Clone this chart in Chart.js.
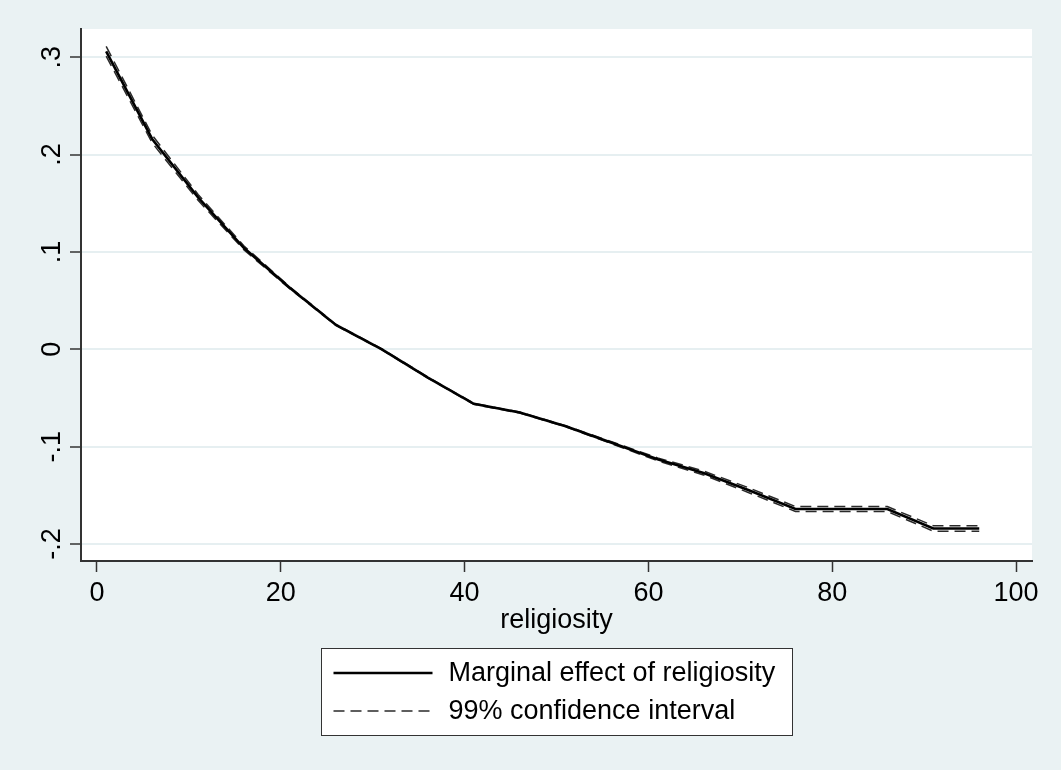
<!DOCTYPE html>
<html>
<head>
<meta charset="utf-8">
<title>Marginal effect of religiosity</title>
<script src="https://cdn.jsdelivr.net/npm/chart.js@4.4.1/dist/chart.umd.min.js"></script>
<style>
  body { margin: 0; background: #EAF2F3; }
  canvas { display: block; }
</style>
</head>
<body>
<canvas id="effectChart" width="1061" height="770"></canvas>
<script>
// religiosity values (x) and the estimated marginal effect with its 99% CI
const religiosity = [1, 6, 11, 16, 21, 26, 31, 36, 41, 46, 51, 56, 61, 66, 71, 76, 81, 86, 91, 96];
const marginalEffect = [0.306, 0.216, 0.156, 0.104, 0.063, 0.025, 0.000, -0.029, -0.056, -0.065,
  -0.079, -0.096, -0.113, -0.127, -0.145, -0.164, -0.164, -0.164, -0.184, -0.184];
const ciUpper = [0.311, 0.220, 0.159, 0.106, 0.064, 0.0255, 0.0005, -0.0285, -0.0555, -0.0645,
  -0.0785, -0.095, -0.1115, -0.125, -0.1425, -0.1615, -0.1615, -0.1615, -0.1812, -0.1812];
const ciLower = [0.301, 0.212, 0.153, 0.102, 0.062, 0.0245, -0.0005, -0.0295, -0.0565, -0.0655,
  -0.0795, -0.097, -0.1145, -0.129, -0.1475, -0.1665, -0.1665, -0.1665, -0.1868, -0.1868];

const xTicks = [0, 20, 40, 60, 80, 100];
const yTicks = [-0.2, -0.1, 0, 0.1, 0.2, 0.3];
const yTickLabels = ['-.2', '-.1', '0', '.1', '.2', '.3'];

const FONT = '"Liberation Sans", Arial, sans-serif';
const FONT_SIZE = 27;
const BG = '#EAF2F3';
const AXIS = '#333333';

function toPoints(ys) {
  return religiosity.map((x, i) => ({ x: x, y: ys[i] }));
}

// page + plot region backgrounds
const backgroundPlugin = {
  id: 'backgrounds',
  beforeDraw(chart) {
    const c = chart.ctx;
    const a = chart.chartArea;
    c.save();
    c.fillStyle = BG;
    c.fillRect(0, 0, chart.width, chart.height);
    c.fillStyle = '#ffffff';
    c.fillRect(a.left, a.top, a.right - a.left, a.bottom - a.top);
    c.restore();
  }
};

// rotated y tick labels, Stata style
const yLabelPlugin = {
  id: 'yLabels',
  afterDraw(chart) {
    const c = chart.ctx;
    const y = chart.scales.y;
    c.save();
    c.fillStyle = '#000';
    c.font = FONT_SIZE + 'px ' + FONT;
    c.textAlign = 'center';
    c.textBaseline = 'alphabetic';
    yTicks.forEach((v, i) => {
      c.save();
      c.translate(60, y.getPixelForValue(v));
      c.rotate(-Math.PI / 2);
      c.fillText(yTickLabels[i], 0, 0);
      c.restore();
    });
    c.restore();
  }
};

// boxed legend under the x axis title
const boxLegendPlugin = {
  id: 'boxLegend',
  afterDraw(chart) {
    const c = chart.ctx;
    const a = chart.chartArea;
    const w = 471, h = 87;
    const left = Math.round((a.left + a.right) / 2 - w / 2) + 0.5;
    const top = 648.5;
    c.save();
    c.fillStyle = '#fff';
    c.fillRect(left, top, w, h);
    c.strokeStyle = AXIS;
    c.lineWidth = 1;
    c.strokeRect(left, top, w, h);

    const rows = [chart.data.datasets[0], chart.data.datasets[1]];
    const rowY = [673, 711];
    c.font = FONT_SIZE + 'px ' + FONT;
    c.textBaseline = 'middle';
    c.textAlign = 'left';
    rows.forEach((ds, i) => {
      c.beginPath();
      c.setLineDash(ds.borderDash || []);
      c.strokeStyle = ds.borderColor;
      c.lineWidth = ds.borderWidth;
      c.moveTo(left + 12, rowY[i]);
      c.lineTo(left + 111, rowY[i]);
      c.stroke();
      c.setLineDash([]);
      c.fillStyle = '#000';
      c.fillText(ds.label, left + 127, rowY[i] + 1);
    });
    c.restore();
  }
};

const ctx = document.getElementById('effectChart').getContext('2d');

const effectChart = new Chart(ctx, {
  type: 'line',
  data: {
    datasets: [{
      label: 'Marginal effect of religiosity',
      data: toPoints(marginalEffect),
      borderColor: '#000000',
      borderWidth: 2.6,
      pointRadius: 0,
      tension: 0
    }, {
      label: '99% confidence interval',
      data: toPoints(ciUpper),
      borderColor: '#2a2a2a',
      borderWidth: 1.5,
      borderDash: [11, 6],
      pointRadius: 0,
      tension: 0
    }, {
      label: '99% confidence interval (lower)',
      data: toPoints(ciLower),
      borderColor: '#2a2a2a',
      borderWidth: 1.5,
      borderDash: [11, 6],
      pointRadius: 0,
      tension: 0
    }]
  },
  options: {
    responsive: false,
    devicePixelRatio: 1,
    animation: false,
    layout: {
      padding: { top: 29, right: 29, left: 0, bottom: 0 }
    },
    plugins: {
      legend: { display: false },
      tooltip: { enabled: false }
    },
    scales: {
      x: {
        type: 'linear',
        min: -1.74,
        max: 101.74,
        afterBuildTicks: s => { s.ticks = xTicks.map(v => ({ value: v })); },
        afterFit: s => { s.height = 209; },
        border: { display: true, color: AXIS, width: 2 },
        grid: {
          drawOnChartArea: false,
          drawTicks: true,
          tickLength: 11,
          tickColor: AXIS,
          tickWidth: 1.5
        },
        ticks: {
          color: '#000',
          padding: 5,
          font: { family: FONT, size: FONT_SIZE },
          maxRotation: 0,
          autoSkip: false
        },
        title: {
          display: true,
          text: 'religiosity',
          color: '#000',
          font: { family: FONT, size: FONT_SIZE },
          padding: { top: 0, bottom: 133 }
        }
      },
      y: {
        type: 'linear',
        min: -0.2174,
        max: 0.3289,
        afterBuildTicks: s => { s.ticks = yTicks.map(v => ({ value: v })); },
        afterFit: s => { s.width = 81; },
        border: { display: true, color: AXIS, width: 2 },
        grid: {
          color: '#E6EFF1',
          lineWidth: 2,
          drawTicks: true,
          tickLength: 11,
          tickColor: AXIS,
          tickWidth: 1.5
        },
        ticks: { display: false }
      }
    }
  },
  plugins: [backgroundPlugin, yLabelPlugin, boxLegendPlugin]
});
</script>
</body>
</html>
